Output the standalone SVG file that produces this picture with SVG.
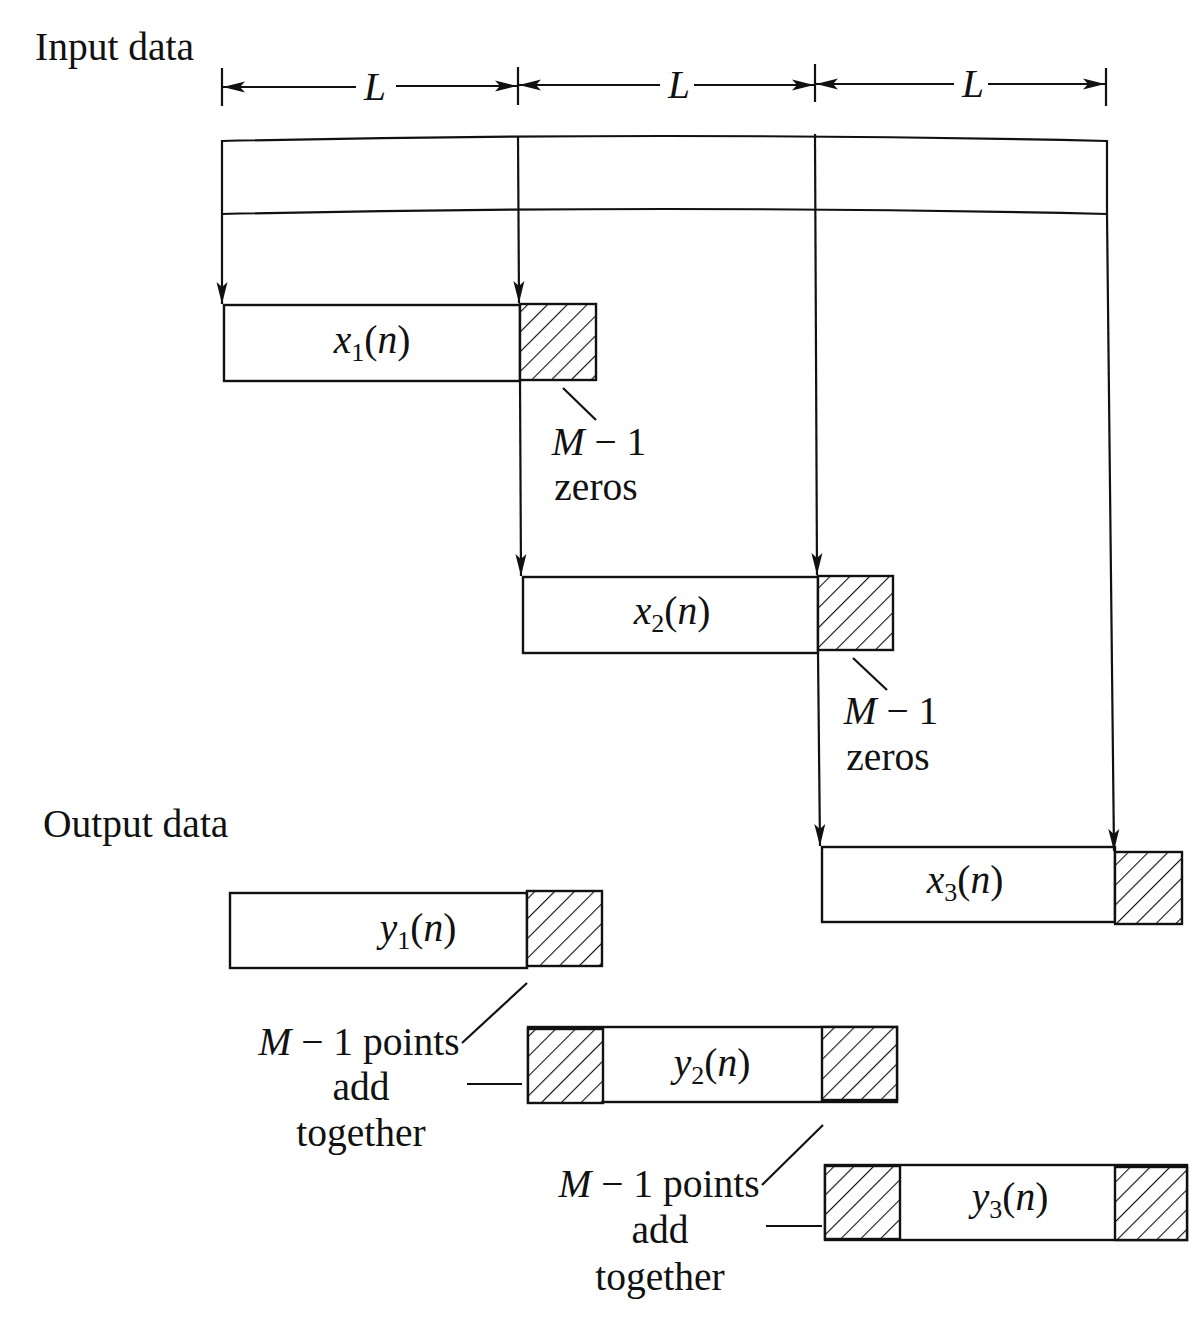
<svg xmlns="http://www.w3.org/2000/svg" width="1194" height="1328" viewBox="0 0 1194 1328">
<style>
.ln{stroke:#111;stroke-width:2.2;fill:none}
.bx{stroke:#111;stroke-width:2.4;fill:#fff}
.ht{stroke:#111;stroke-width:2.4;fill:url(#hatch)}
.t{font-family:"Liberation Serif","Times New Roman",serif;font-size:39.5px;fill:#111}
.i{font-style:italic}
.sub{font-size:26px}
</style>
<defs>
<pattern id="hatch" patternUnits="userSpaceOnUse" width="14" height="14" patternTransform="rotate(45)">
<rect width="14" height="14" fill="#fff"/>
<line x1="0" y1="0" x2="0" y2="14" stroke="#111" stroke-width="2.2"/>
</pattern>
<marker id="ah" viewBox="0 0 22 12" refX="22" refY="6" markerWidth="22" markerHeight="12" markerUnits="userSpaceOnUse" orient="auto">
<path d="M0,0.5 L22,6 L0,11.5 L5,6 Z" fill="#111"/>
</marker>
</defs>
<rect width="1194" height="1328" fill="#fff"/>

<g id="titles">
<text class="t" x="35" y="60">Input data</text>
<text class="t" x="43" y="837">Output data</text>
</g>

<g id="dimension">
<line class="ln" x1="222" y1="68" x2="222" y2="106"/>
<line class="ln" x1="518" y1="67" x2="518" y2="105"/>
<line class="ln" x1="815" y1="64" x2="815" y2="102"/>
<line class="ln" x1="1106" y1="68" x2="1106" y2="106"/>
<line class="ln" x1="356" y1="87" x2="223" y2="87" marker-end="url(#ah)"/>
<line class="ln" x1="396" y1="86" x2="517" y2="86" marker-end="url(#ah)"/>
<line class="ln" x1="660" y1="85" x2="519" y2="85" marker-end="url(#ah)"/>
<line class="ln" x1="694" y1="85" x2="814" y2="85" marker-end="url(#ah)"/>
<line class="ln" x1="954" y1="84" x2="816" y2="84" marker-end="url(#ah)"/>
<line class="ln" x1="988" y1="84" x2="1105" y2="84" marker-end="url(#ah)"/>
<text class="t i" x="375" y="100" text-anchor="middle">L</text>
<text class="t i" x="679" y="98" text-anchor="middle">L</text>
<text class="t i" x="973" y="97" text-anchor="middle">L</text>
</g>

<g id="input-bar">
<path class="ln" d="M222,214 L222,141 Q665,131 1107,141 L1107,214"/>
<path class="ln" d="M222,214 Q665,204 1107,214"/>
</g>

<g id="x1">
<rect class="bx" x="224" y="305" width="296" height="76"/>
<rect class="ht" x="520" y="304" width="76" height="76"/>
<text class="t" x="372" y="353" text-anchor="middle"><tspan class="i">x</tspan><tspan class="sub" dy="8">1</tspan><tspan dy="-8">(</tspan><tspan class="i">n</tspan>)</text>
</g>

<g id="x2">
<rect class="bx" x="523" y="577" width="295" height="76"/>
<rect class="ht" x="818" y="576" width="75" height="74"/>
<text class="t" x="672" y="624" text-anchor="middle"><tspan class="i">x</tspan><tspan class="sub" dy="8">2</tspan><tspan dy="-8">(</tspan><tspan class="i">n</tspan>)</text>
</g>

<g id="x3">
<rect class="bx" x="822" y="847" width="293" height="75"/>
<rect class="ht" x="1115" y="852" width="67" height="72"/>
<text class="t" x="965" y="893" text-anchor="middle"><tspan class="i">x</tspan><tspan class="sub" dy="8">3</tspan><tspan dy="-8">(</tspan><tspan class="i">n</tspan>)</text>
</g>

<g id="zeros1">
<line class="ln" x1="563" y1="388" x2="596" y2="420"/>
<text class="t" x="599" y="455" text-anchor="middle"><tspan class="i">M</tspan> − 1</text>
<text class="t" x="596" y="500" text-anchor="middle">zeros</text>
</g>

<g id="zeros2">
<line class="ln" x1="853" y1="658" x2="887" y2="690"/>
<text class="t" x="891" y="724" text-anchor="middle"><tspan class="i">M</tspan> − 1</text>
<text class="t" x="888" y="770" text-anchor="middle">zeros</text>
</g>

<g id="y1">
<rect class="bx" x="230" y="893" width="297" height="75"/>
<rect class="ht" x="527" y="891" width="75" height="75"/>
<text class="t" x="418" y="941" text-anchor="middle"><tspan class="i">y</tspan><tspan class="sub" dy="8">1</tspan><tspan dy="-8">(</tspan><tspan class="i">n</tspan>)</text>
</g>

<g id="y2">
<rect class="bx" x="528" y="1027" width="369" height="75"/>
<rect class="ht" x="528" y="1029" width="75" height="74"/>
<rect class="ht" x="822" y="1027" width="75" height="73"/>
<text class="t" x="712" y="1076" text-anchor="middle"><tspan class="i">y</tspan><tspan class="sub" dy="8">2</tspan><tspan dy="-8">(</tspan><tspan class="i">n</tspan>)</text>
</g>

<g id="y3">
<rect class="bx" x="825" y="1165" width="362" height="75"/>
<rect class="ht" x="825" y="1166" width="75" height="73"/>
<rect class="ht" x="1115" y="1167" width="72" height="73"/>
<text class="t" x="1010" y="1210" text-anchor="middle"><tspan class="i">y</tspan><tspan class="sub" dy="8">3</tspan><tspan dy="-8">(</tspan><tspan class="i">n</tspan>)</text>
</g>

<g id="add1">
<line class="ln" x1="527" y1="983" x2="462" y2="1043"/>
<line class="ln" x1="467" y1="1084" x2="522" y2="1084"/>
<text class="t" x="359" y="1055" text-anchor="middle"><tspan class="i">M</tspan> − 1 points</text>
<text class="t" x="361" y="1100" text-anchor="middle">add</text>
<text class="t" x="361" y="1146" text-anchor="middle">together</text>
</g>

<g id="add2">
<line class="ln" x1="823" y1="1125" x2="762" y2="1185"/>
<line class="ln" x1="766" y1="1226" x2="822" y2="1226"/>
<text class="t" x="659" y="1197" text-anchor="middle"><tspan class="i">M</tspan> − 1 points</text>
<text class="t" x="660" y="1243" text-anchor="middle">add</text>
<text class="t" x="660" y="1290" text-anchor="middle">together</text>
</g>

<g id="connectors">
<line class="ln" x1="222" y1="214" x2="222" y2="304" marker-end="url(#ah)"/>
<line class="ln" x1="518" y1="136" x2="519" y2="303" marker-end="url(#ah)"/>
<line class="ln" x1="520" y1="381" x2="521" y2="576" marker-end="url(#ah)"/>
<line class="ln" x1="815" y1="134" x2="817" y2="575" marker-end="url(#ah)"/>
<line class="ln" x1="818" y1="653" x2="820" y2="846" marker-end="url(#ah)"/>
<line class="ln" x1="1107" y1="214" x2="1114" y2="851" marker-end="url(#ah)"/>
</g>
</svg>
